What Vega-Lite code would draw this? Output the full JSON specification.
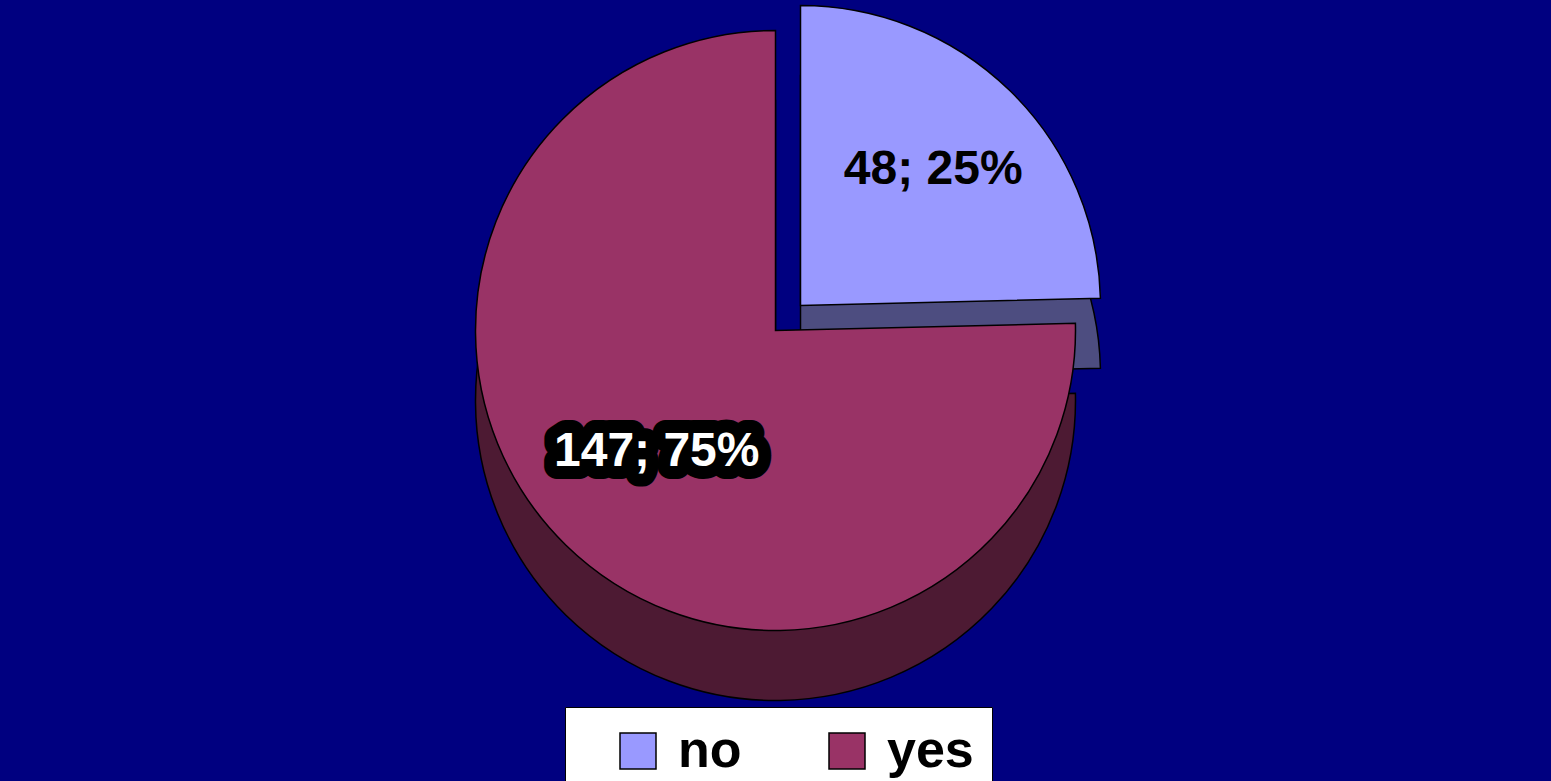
{
  "$schema": "https://vega.github.io/schema/vega-lite/v6.json",
  "width": 1551,
  "height": 781,
  "autosize": {"type": "none"},
  "padding": 0,
  "background": "#000080",
  "data": {
    "values": [
      {"answer": "no", "count": 48, "label": "48; 25%"},
      {"answer": "yes", "count": 147, "label": "147; 75%"}
    ]
  },
  "encoding": {
    "theta": {"field": "count", "type": "quantitative", "stack": true, "scale": {"domain": [0, 195]}},
    "order": {"field": "answer", "type": "ordinal", "sort": "ascending"}
  },
  "layer": [
    {
      "mark": {"type": "arc", "radius": 300, "xOffset": 25, "yOffset": -15, "fill": "#4d4d80", "stroke": "#000000", "strokeWidth": 1.5},
      "encoding": {
        "detail": {"field": "answer"},
        "opacity": {"condition": {"test": "datum.answer === 'no'", "value": 1}, "value": 0}
      }
    },
    {
      "mark": {"type": "arc", "radius": 300, "xOffset": 25, "yOffset": -85, "stroke": "#000000", "strokeWidth": 1.5},
      "encoding": {
        "color": {"field": "answer", "type": "nominal", "scale": {"domain": ["no", "yes"], "range": ["#9999ff", "#993366"]}, "legend": {"title": null}},
        "opacity": {"condition": {"test": "datum.answer === 'no'", "value": 1}, "value": 0}
      }
    },
    {
      "mark": {"type": "arc", "radius": 300, "yOffset": 10, "fill": "#4d1a33", "stroke": "#000000", "strokeWidth": 1.5},
      "encoding": {
        "detail": {"field": "answer"},
        "opacity": {"condition": {"test": "datum.answer === 'yes'", "value": 1}, "value": 0}
      }
    },
    {
      "mark": {"type": "arc", "radius": 300, "yOffset": -60, "stroke": "#000000", "strokeWidth": 1.5},
      "encoding": {
        "color": {"field": "answer", "type": "nominal", "scale": {"domain": ["no", "yes"], "range": ["#9999ff", "#993366"]}, "legend": {"title": null}},
        "opacity": {"condition": {"test": "datum.answer === 'yes'", "value": 1}, "value": 0}
      }
    },
    {
      "mark": {"type": "text", "radius": 190, "xOffset": 25, "yOffset": -85, "font": "Liberation Sans", "fontWeight": "bold", "fontSize": 48, "fill": "#000000"},
      "encoding": {
        "detail": {"field": "answer"},
        "text": {"field": "label"},
        "opacity": {"condition": {"test": "datum.answer === 'no'", "value": 1}, "value": 0}
      }
    },
    {
      "mark": {"type": "text", "radius": 170, "yOffset": -60, "font": "Liberation Sans", "fontWeight": "bold", "fontSize": 48, "fill": "#000000", "stroke": "#000000", "strokeWidth": 26, "strokeJoin": "round"},
      "encoding": {
        "detail": {"field": "answer"},
        "text": {"field": "label"},
        "opacity": {"condition": {"test": "datum.answer === 'yes'", "value": 1}, "value": 0}
      }
    },
    {
      "mark": {"type": "text", "radius": 170, "yOffset": -60, "font": "Liberation Sans", "fontWeight": "bold", "fontSize": 48, "fill": "#ffffff"},
      "encoding": {
        "detail": {"field": "answer"},
        "text": {"field": "label"},
        "opacity": {"condition": {"test": "datum.answer === 'yes'", "value": 1}, "value": 0}
      }
    }
  ],
  "config": {
    "view": {
      "stroke": null,
      "fill": {
        "gradient": "linear",
        "x1": 0, "y1": 0, "x2": 1, "y2": 0,
        "stops": [
          {"offset": 0, "color": "#000066"},
          {"offset": 1, "color": "#000099"}
        ]
      }
    },
    "legend": {
      "orient": "none",
      "legendX": 565,
      "legendY": 707,
      "direction": "horizontal",
      "fillColor": "#ffffff",
      "strokeColor": "#000000",
      "padding": 18,
      "symbolOffset": 29,
      "symbolType": "square",
      "symbolSize": 1296,
      "symbolStrokeColor": "#000000",
      "symbolStrokeWidth": 1.5,
      "symbolOpacity": 1,
      "labelFont": "Liberation Sans",
      "labelFontWeight": "bold",
      "labelFontSize": 52,
      "labelColor": "#000000",
      "labelOffset": 14,
      "columnPadding": 50
    }
  }
}
